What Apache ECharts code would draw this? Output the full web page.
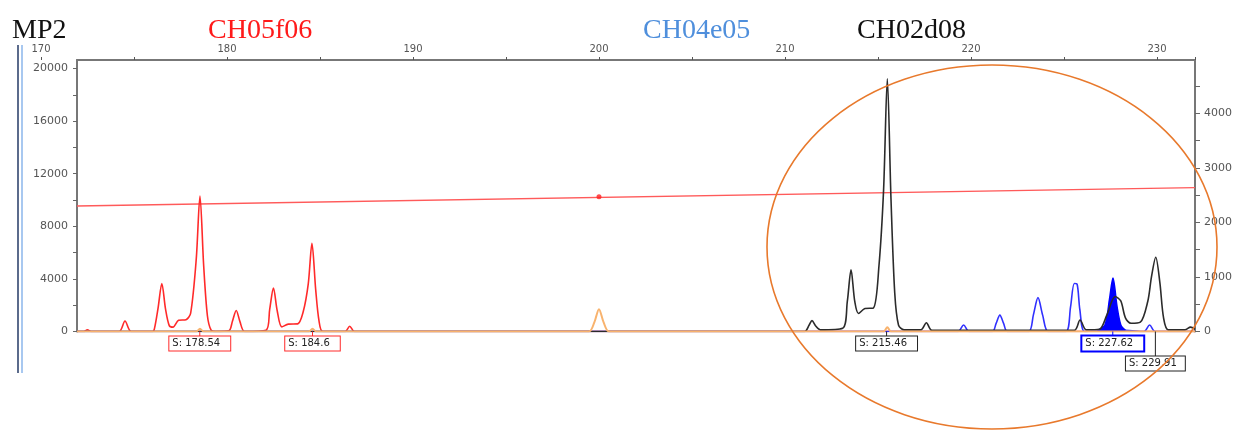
<!DOCTYPE html>
<html><head><meta charset="utf-8">
<script src="https://cdn.jsdelivr.net/npm/echarts@6/dist/echarts.min.js"></script>
<style>html,body{margin:0;padding:0;background:#fff}#c{width:1239px;height:432px}</style>
</head><body><div id="c"></div>
<script>
const X_MIN = 171.94, X_MAX = 232.04;
const titles = ['MP2', 'CH05f06', 'CH04e05', 'CH02d08'];
const titleColors = ['#111111', '#ff1a1a', '#4f8fdc', '#111111'];
const titleLeft = [12, 208, 643, 857];

// red dye trace (left axis, RFU)
const redTrace = [[X_MIN,0],[172.3,0],[172.5,120],[172.7,0],[174.2,0],[174.52,800],[174.85,0],[176.0,0],[176.1,200],[176.3,1800],[176.5,3650],[176.7,1700],[176.9,450],[177.1,330],[177.4,850],[177.8,900],[178.05,1400],[178.35,5500],[178.55,10300],[178.75,5000],[178.95,1200],[179.15,100],[179.4,0],[180.1,50],[180.3,800],[180.5,1600],[180.7,750],[180.95,0],[182.1,100],[182.3,1700],[182.5,3300],[182.7,1600],[182.95,350],[183.3,560],[183.8,580],[184.1,1500],[184.37,3600],[184.57,6700],[184.77,3200],[184.95,800],[185.15,0],[186.35,0],[186.6,400],[186.85,0],[X_MAX,0]];
// orange dye trace (left axis)
const orangeTrace = [[X_MIN,0],[178.35,0],[178.55,200],[178.75,0],[184.4,0],[184.6,200],[184.8,0],[199.45,0],[199.75,700],[200.0,1700],[200.25,700],[200.55,0],[215.3,0],[215.5,330],[215.7,0],[X_MAX,0]];
// black dye trace (right axis)
const blackTrace = [[X_MIN,0],[211.05,0],[211.3,120],[211.45,200],[211.65,100],[211.9,30],[213.1,60],[213.35,550],[213.55,1130],[213.75,550],[213.95,330],[214.3,420],[214.75,430],[215.05,1200],[215.3,2600],[215.5,4630],[215.7,2400],[215.9,700],[216.1,120],[216.4,30],[217.3,30],[217.6,160],[217.9,20],[225.55,20],[225.86,210],[226.2,30],[226.9,40],[227.3,300],[227.75,640],[228.05,560],[228.3,250],[228.6,150],[229.1,170],[229.5,550],[229.7,1000],[229.93,1360],[230.15,900],[230.35,250],[230.6,30],[231.5,30],[231.8,80],[X_MAX,40]];
// blue dye trace (right axis)
const blueTrace = [[X_MIN,0],[219.3,0],[219.6,120],[219.9,0],[221.15,0],[221.35,150],[221.55,300],[221.75,150],[221.95,0],[223.1,0],[223.35,300],[223.6,620],[223.85,300],[224.15,0],[225.1,0],[225.35,450],[225.55,880],[225.7,870],[225.85,400],[226.1,0],[226.8,20],[228.3,20],[229.3,0],[229.6,120],[229.9,0],[X_MAX,0]];
// filled (called) blue peak
const bluePeak = [[226.8,20],[227.2,120],[227.45,600],[227.63,980],[227.85,450],[228.05,120],[228.3,20]];
// threshold line and its handle
const thresholdLine = [[X_MIN,9545],[X_MAX,10936]];
const thresholdDot = [[200,10240]];
// size call labels
const redCalls = [178.54, 184.6];
const blackCalls = [215.46, 229.91];
const blueCalls = [227.62];

function call(x, color, bw, len, padR) {
  return {
    coord: [x, 0],
    symbol: 'rect', symbolSize: [1, len], symbolOffset: [0, len / 2],
    itemStyle: { color: color },
    label: {
      show: true, position: 'bottom', distance: 0,
      formatter: 'S: ' + x,
      fontFamily: 'DejaVu Sans', fontSize: 10, color: '#222',
      backgroundColor: '#fff', borderColor: color, borderWidth: bw,
      padding: [1, padR, 1, 3], lineHeight: 12
    }
  };
}

const chart = echarts.init(document.getElementById('c'), null, { renderer: 'canvas' });
const axisGray = '#777';
const lblStyle = { fontFamily: 'DejaVu Sans', fontSize: 11, color: '#555' };
chart.setOption({
  animation: false,
  backgroundColor: '#fff',
  title: titles.map((t, i) => ({
    text: t, left: titleLeft[i], top: 17, padding: 0,
    textStyle: { fontFamily: 'Liberation Serif', fontSize: 28, fontWeight: 'normal', color: titleColors[i] }
  })),
  grid: [
    { left: 77, right: 44, top: 60, bottom: 100.5 },
    { left: 41, right: 44, top: 60, height: 10 }
  ],
  xAxis: [
    { type: 'value', gridIndex: 0, min: X_MIN, max: X_MAX, position: 'top',
      axisLine: { show: true, onZero: false, lineStyle: { color: axisGray, width: 2 } },
      axisTick: { show: false }, axisLabel: { show: false }, splitLine: { show: false } },
    { type: 'value', gridIndex: 1, min: 170, max: X_MAX, interval: 5, position: 'top',
      axisLine: { show: false, onZero: false },
      axisTick: { show: true, length: 3, lineStyle: { color: '#555', width: 1 } },
      axisLabel: { ...lblStyle, fontSize: 10, margin: 6, formatter: v => (v % 10 === 0 ? String(v) : '') },
      splitLine: { show: false } }
  ],
  yAxis: [
    { type: 'value', gridIndex: 0, min: 0, max: 20650, interval: 2000, position: 'left',
      axisLine: { show: true, lineStyle: { color: axisGray, width: 2 } },
      axisTick: { show: true, length: 4, lineStyle: { color: '#666' } },
      axisLabel: { ...lblStyle, margin: 9, showMaxLabel: false, formatter: v => (v % 4000 === 0 && v <= 20000 ? String(v) : '') },
      splitLine: { show: false } },
    { type: 'value', gridIndex: 0, min: 0, max: 4975, interval: 500, position: 'right',
      axisLine: { show: true, lineStyle: { color: axisGray, width: 2 } },
      axisTick: { show: true, length: 5, lineStyle: { color: '#666' } },
      axisLabel: { ...lblStyle, margin: 9, showMaxLabel: false, formatter: v => (v % 1000 === 0 && v <= 4000 ? String(v) : '') },
      splitLine: { show: false } },
    { type: 'value', gridIndex: 1, show: false }
  ],
  series: [
    { type: 'line', name: 'threshold', xAxisIndex: 0, yAxisIndex: 0, data: thresholdLine, symbol: 'none',
      lineStyle: { color: '#ff5a5a', width: 1.3 }, z: 2 },
    { type: 'scatter', xAxisIndex: 0, yAxisIndex: 0, data: thresholdDot, symbolSize: 5,
      itemStyle: { color: '#ff2020' }, z: 3 },
    { type: 'line', name: 'red', xAxisIndex: 0, yAxisIndex: 0, data: redTrace, symbol: 'none', smooth: 0.3,
      lineStyle: { color: '#ff2a2a', width: 1.6 }, z: 4,
      markPoint: { data: redCalls.map(x => call(x, '#ff2a2a', 1, 5, 10)), z: 10 } },
    { type: 'line', name: 'blue', xAxisIndex: 0, yAxisIndex: 1, data: blueTrace, symbol: 'none', smooth: 0.3,
      lineStyle: { color: '#3030ff', width: 1.6 }, z: 4 },
    { type: 'line', name: 'bluePeak', xAxisIndex: 0, yAxisIndex: 1, data: bluePeak, symbol: 'none', smooth: 0.3,
      lineStyle: { color: '#0000ff', width: 1.6 }, areaStyle: { color: '#0000ff', opacity: 1 }, z: 5,
      markPoint: { data: blueCalls.map(x => call(x, '#0000ff', 2, 5, 10)), z: 10 } },
    { type: 'line', name: 'black', xAxisIndex: 0, yAxisIndex: 1, data: blackTrace, symbol: 'none', smooth: 0.3,
      lineStyle: { color: '#2b2b2b', width: 1.6 }, z: 6,
      markPoint: { data: [call(blackCalls[0], '#222', 1, 5, 10), call(blackCalls[1], '#222', 1, 25, 8)], z: 10 } },
    { type: 'line', name: 'orange', xAxisIndex: 0, yAxisIndex: 0, data: orangeTrace, symbol: 'none', smooth: 0.3,
      lineStyle: { color: '#f8b36e', width: 2 }, z: 7 }
  ],
  graphic: [
    { type: 'rect', shape: { x: 17, y: 45, width: 2, height: 328 }, style: { fill: '#5b6b8c' } },
    { type: 'rect', shape: { x: 21, y: 45, width: 2, height: 328 }, style: { fill: '#a8c8f0' } },
    { type: 'ellipse', shape: { cx: 992, cy: 247, rx: 225, ry: 182 }, style: { fill: 'none', stroke: '#e8792c', lineWidth: 1.6 }, z: 100 }
  ]
});
</script></body></html>
